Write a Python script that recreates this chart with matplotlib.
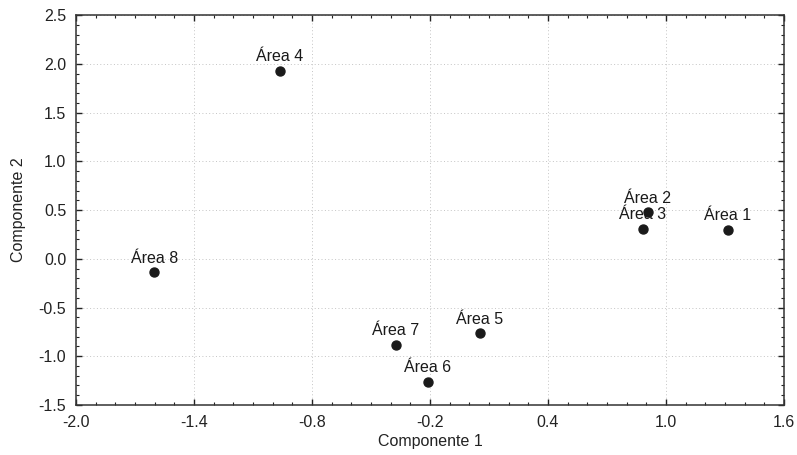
import matplotlib.pyplot as plt
from matplotlib.ticker import MultipleLocator

plt.rcParams['font.family'] = ['Liberation Sans', 'DejaVu Sans']

# PCA scores
areas = ["Área 1", "Área 2", "Área 3", "Área 4", "Área 5", "Área 6", "Área 7", "Área 8"]
comp1 = [1.313, 0.906, 0.883, -0.963, 0.054, -0.212, -0.375, -1.602]
comp2 = [0.295, 0.476, 0.305, 1.926, -0.765, -1.261, -0.882, -0.139]

x_ticks = [-2.0, -1.4, -0.8, -0.2, 0.4, 1.0, 1.6]
y_ticks = [-1.5, -1.0, -0.5, 0.0, 0.5, 1.0, 1.5, 2.0, 2.5]

fig = plt.figure(figsize=(7.97, 4.55), dpi=100)
ax = fig.add_axes([0.0954, 0.1099, 0.8883, 0.8571])

ax.scatter(comp1, comp2, s=42, color='#1a1a1a', zorder=3)
for name, x, y in zip(areas, comp1, comp2):
    ax.annotate(name, (x, y), xytext=(0, 7), textcoords='offset points',
                ha='center', va='baseline', fontsize=11.5, color='#1a1a1a', zorder=4)

ax.set_xlim(-2.0, 1.6)
ax.set_ylim(-1.5, 2.5)
ax.set_xticks(x_ticks)
ax.set_yticks(y_ticks)
ax.set_xticklabels([f"{v:.1f}" for v in x_ticks])
ax.set_yticklabels([f"{v:.1f}" for v in y_ticks])
ax.xaxis.set_minor_locator(MultipleLocator(0.1))
ax.yaxis.set_minor_locator(MultipleLocator(0.1))

ax.grid(True, which='major', linestyle=(0, (1, 2.5)), color='#c4c4c4', linewidth=0.7)
ax.tick_params(which='both', direction='in', top=True, right=True, colors='#222222',
               labelcolor='#222222', labelsize=11.5)
ax.tick_params(which='major', length=4.5, width=1, pad=7)
ax.tick_params(which='minor', length=2.5, width=0.8)
for sp in ax.spines.values():
    sp.set_color('#333333')
    sp.set_linewidth(1.1)

ax.set_xlabel("Componente 1", fontsize=11.5, color='#222222', labelpad=3)
ax.set_ylabel("Componente 2", fontsize=11.5, color='#222222', labelpad=9)

fig.savefig("out.png", dpi=100)
